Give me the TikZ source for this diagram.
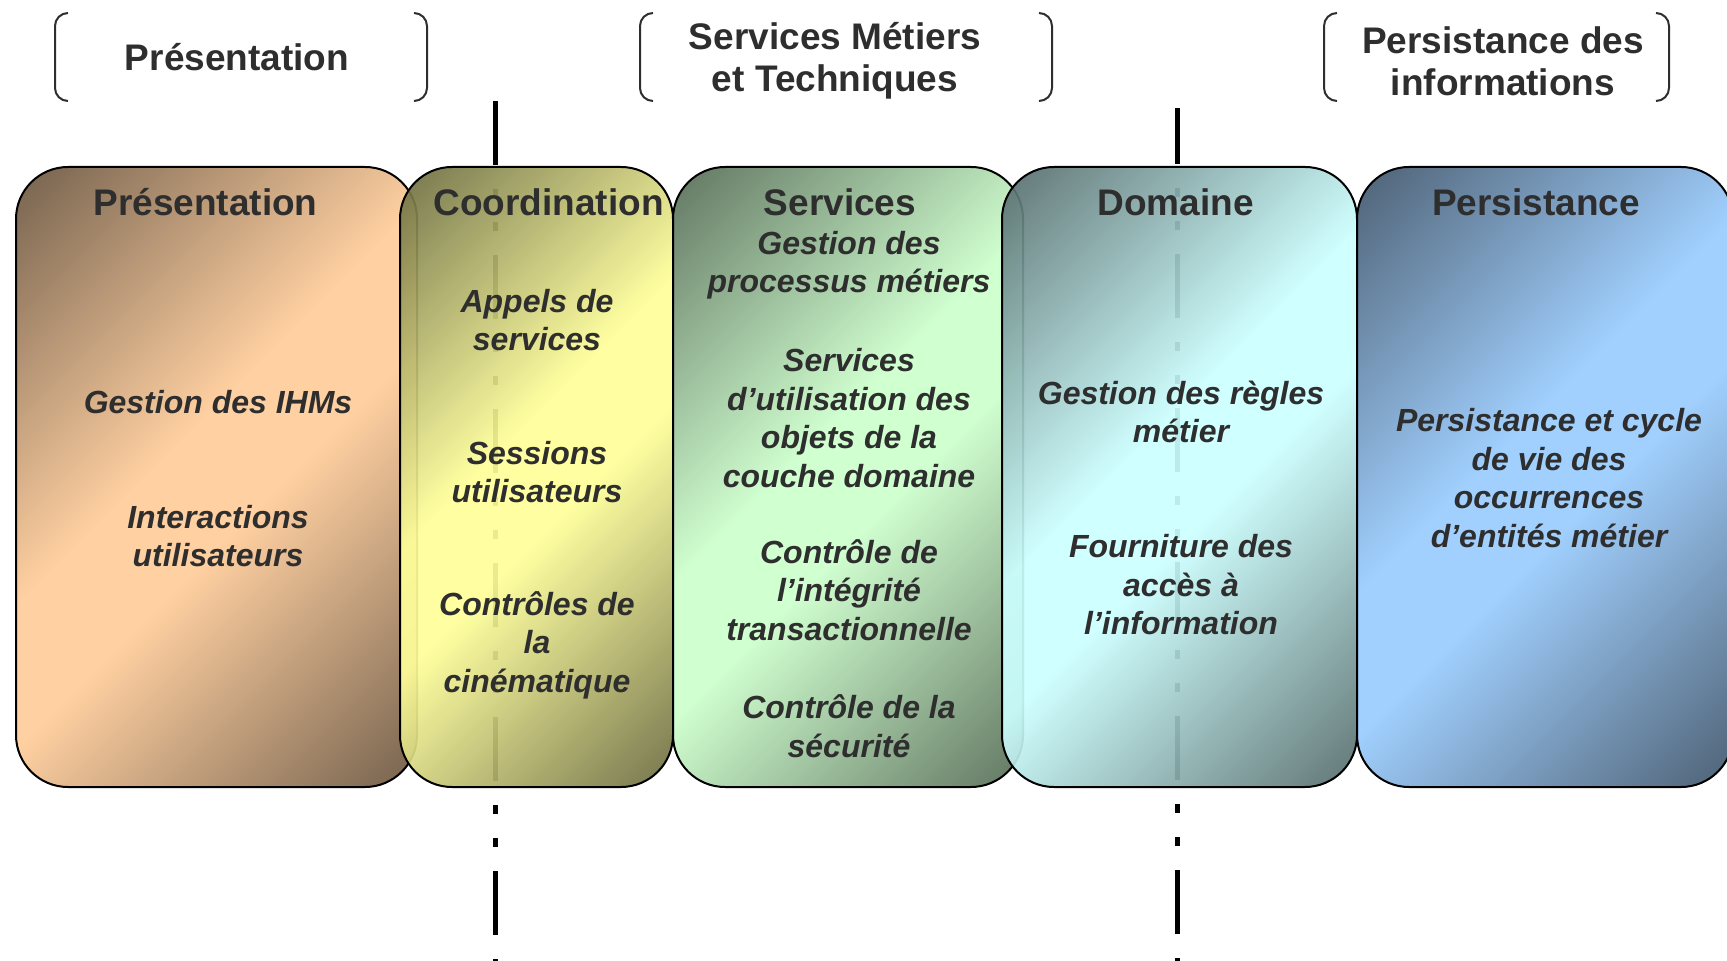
\documentclass[tikz,border=0pt]{standalone}
\usepackage{fontspec}
\setmainfont{Liberation Sans}
\usetikzlibrary{positioning}
\definecolor{inktext}{HTML}{2E2E2E}
\definecolor{peach}{HTML}{FFCC99}
\definecolor{paleyellow}{HTML}{FFFF99}
\definecolor{palegreen}{HTML}{CCFFCC}
\definecolor{palecyan}{HTML}{CCFFFF}
\definecolor{paleblue}{HTML}{99CCFF}
\colorlet{paneldark}{black}
\colorlet{panellight}{white}
\pgfdeclarehorizontalshading[paneldark,panellight]{panelshade}{100bp}{color(0bp)=(paneldark); color(15bp)=(paneldark); color(45bp)=(panellight); color(55bp)=(panellight); color(85bp)=(paneldark); color(100bp)=(paneldark)}
\tikzset{
  panel/.style={draw, line width=1pt, rounded corners=26pt, minimum height=310pt,
    inner sep=0pt, outer sep=0pt, shading=panelshade, shading angle=-45,
    fill opacity=0.92, text opacity=1,
    /utils/exec={\colorlet{panellight}{#1}\colorlet{paneldark}{#1!42!black}}},
  paneltitle/.style={font=\fontsize{18.5}{22}\selectfont\bfseries, text=inktext, inner sep=0pt},
  item/.style={font=\fontsize{16}{19.25}\selectfont\bfseries\itshape, text=inktext, align=center, inner sep=0pt},
  frame/.style={minimum height=44pt, outer sep=0pt, inner sep=0pt},
  group/.style={font=\fontsize{18.5}{21}\selectfont\bfseries, text=inktext, align=center, inner sep=0pt},
  bracketline/.style={draw=inktext, line width=1pt, rounded corners=6.5pt},
  splitline/.style={line width=2.5pt, dash pattern=on 32pt off 12pt on 4.5pt off 12pt on 4.5pt off 12pt}
}
\begin{document}
\begin{tikzpicture}[x=0.5pt,y=-0.5pt]
  \useasboundingbox (0,0) rectangle (1727,961);
  % tier separators
  \coordinate (cut1top) at (495,101);
  \coordinate (cut1bot) at (495,961);
  \coordinate (cut2top) at (1177,108);
  \coordinate (cut2bot) at (1177,961);
  \draw[splitline] (cut1top) -- (cut1bot);
  \draw[splitline, dash phase=4pt] (cut2top) -- (cut2bot);
  % groups on top
  \node[frame, minimum width=186pt] (bpres) at (241,57) {};
  \node[frame, minimum width=206pt] (bserv) at (846,57) {};
  \node[frame, minimum width=172.5pt] (bpers) at (1496.5,57) {};
  \node[group] (bpresT) at (237,57) {Présentation};
  \node[group] (bservT) at (835,61) {Services Métiers\\et Techniques};
  \node[group] (bpersT) at (1503,61) {Persistance des\\informations};
  \foreach \b in {bpres,bserv,bpers}{
    \draw[bracketline] ([xshift=6.5pt]\b.north west) -- (\b.north west) -- (\b.south west) -- ([xshift=6.5pt]\b.south west);
    \draw[bracketline] ([xshift=-6.5pt]\b.north east) -- (\b.north east) -- (\b.south east) -- ([xshift=-6.5pt]\b.south east);
  }
  % layers
  \node[panel=peach, minimum width=200.5pt] (pres) at (216.5,477) {};
  \node[panel=paleyellow, minimum width=136.5pt, right=-8.5pt of pres] (coord) {};
  \node[panel=palegreen, minimum width=175pt, right=0pt of coord] (serv) {};
  \node[panel=palecyan, minimum width=177.5pt, right=-10.5pt of serv] (dom) {};
  \node[panel=paleblue, minimum width=188pt, right=0pt of dom] (pers) {};
  \node[paneltitle] (presT) at ([xshift=-5.5pt,yshift=-17.5pt]pres.north) {Présentation};
  \node[paneltitle] (coordT) at ([xshift=6pt,yshift=-17.5pt]coord.north) {Coordination};
  \node[paneltitle] (servT) at ([xshift=-4pt,yshift=-17.5pt]serv.north) {Services};
  \node[paneltitle] (domT) at ([xshift=-2pt,yshift=-17.5pt]dom.north) {Domaine};
  \node[paneltitle] (persT) at ([xshift=-4.5pt,yshift=-17.5pt]pers.north) {Persistance};
  % contents
  \node[item] (ihm) at (218,402) {Gestion des IHMs};
  \node[item] (inter) at (218,536) {Interactions\\utilisateurs};
  \node[item] (appels) at (537,320) {Appels de\\services};
  \node[item] (sessions) at (537,472) {Sessions\\utilisateurs};
  \node[item] (cinem) at (537,645) {Contrôles de\\la\\cinématique};
  \node[item] (process) at (849,265) {Gestion des\\processus métiers};
  \node[item] (usage) at (849,418) {Services\\d’utilisation des\\objets de la\\couche domaine};
  \node[item] (integ) at (849,590) {Contrôle de\\l’intégrité\\transactionnelle};
  \node[item] (secu) at (849,726) {Contrôle de la\\sécurité};
  \node[item] (regles) at (1181,412) {Gestion des règles\\métier};
  \node[item] (acces) at (1181,585) {Fourniture des\\accès à\\l’information};
  \node[item] (cycle) at (1549,478) {Persistance et cycle\\de vie des\\occurrences\\d’entités métier};
\end{tikzpicture}
\end{document}
